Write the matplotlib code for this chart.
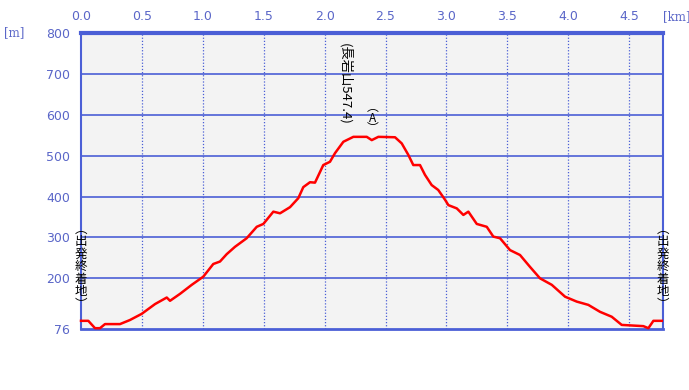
import matplotlib
matplotlib.use("Agg")
import matplotlib.pyplot as plt

# ---- data ----
dist_km = [0.0, 0.06, 0.115, 0.156, 0.197, 0.32, 0.402, 0.498, 0.608, 0.704, 0.731, 0.813,
           0.909, 1.004, 1.086, 1.141, 1.196, 1.264, 1.360, 1.443, 1.497, 1.579, 1.634,
           1.716, 1.784, 1.825, 1.880, 1.921, 1.989, 2.044, 2.085, 2.154, 2.236, 2.346,
           2.387, 2.441, 2.578, 2.633, 2.687, 2.728, 2.783, 2.824, 2.879, 2.933, 2.989,
           3.016, 3.085, 3.139, 3.180, 3.249, 3.331, 3.385, 3.440, 3.522, 3.604, 3.686,
           3.768, 3.865, 3.974, 4.070, 4.165, 4.261, 4.357, 4.439, 4.617, 4.658, 4.699, 4.768]
elev_m = [96, 96, 78, 78, 88, 88, 98, 113, 137, 153, 145, 162,
          184, 204, 235, 241, 259, 277, 298, 326, 333, 363, 359,
          374, 396, 423, 435, 434, 477, 485, 506, 534, 546, 546,
          538, 546, 545, 530, 502, 477, 477, 453, 428, 416, 392,
          379, 371, 355, 363, 333, 326, 302, 298, 269, 257, 228,
          200, 184, 155, 143, 135, 118, 106, 86, 83, 78, 96, 96]

x_ticks = [0.0, 0.5, 1.0, 1.5, 2.0, 2.5, 3.0, 3.5, 4.0, 4.5]
y_ticks = [76, 200, 300, 400, 500, 600, 700, 800]
peak_label = "(長岩山547.4)"
mark_label = "︵\nA\n︶"
end_label = "︵\n出\n発\n終\n着\n地\n︶"

blue = "#4b5fd6"
tick_col = "#5a66c8"
cjk = ["Noto Sans CJK JP", "DejaVu Sans"]

fig = plt.figure(figsize=(6.89, 3.90), dpi=100, facecolor="white")
ax = fig.add_axes([81 / 689, 1 - 329 / 390, (663 - 81) / 689, (329 - 33) / 390])
ax.set_facecolor("#f3f3f3")

ax.set_xlim(0, 4.778)
ax.set_ylim(76, 800)

for v in [200, 300, 400, 500, 600, 700]:
    ax.axhline(v, color=blue, lw=1.2, zorder=1)
for v in x_ticks[1:]:
    ax.axvline(v, color=blue, lw=0.9, ls=(0, (1, 1.5)), zorder=1)

ax.plot(dist_km, elev_m, color="#ff0000", lw=1.8, zorder=3, clip_on=False)

ax.xaxis.tick_top()
ax.set_xticks(x_ticks)
ax.set_xticklabels([f"{v:.1f}" for v in x_ticks])
ax.set_yticks(y_ticks)
ax.set_yticklabels([str(v) for v in y_ticks])
ax.tick_params(axis="both", length=0, colors=tick_col, labelsize=9)
ax.tick_params(axis="x", pad=7)
ax.tick_params(axis="y", pad=8)

for side, sp in ax.spines.items():
    sp.set_color(blue)
ax.spines["top"].set_linewidth(3)
ax.spines["bottom"].set_linewidth(2)
ax.spines["left"].set_linewidth(1.5)
ax.spines["right"].set_linewidth(1.5)

fig.text(4 / 689, 1 - 33 / 390, "[m]", color=tick_col, fontsize=8.5, ha="left", va="center",
         family="DejaVu Serif")
fig.text(663 / 689, 1 - 17 / 390, "[km]", color=tick_col, fontsize=8.5, ha="left", va="center",
         family="DejaVu Serif")

# annotations
ax.text(2.166, 675, peak_label, rotation=-90, ha="center", va="center", fontsize=9.5,
        family=cjk, color="black", zorder=4)
ax.text(2.397, 592, mark_label, ha="center", va="center", fontsize=8.5, linespacing=0.75,
        family=cjk, color="black", zorder=4)
ax.text(0.0, 228, end_label, ha="center", va="center", fontsize=9, linespacing=0.95,
        family=cjk, color="black", zorder=4, clip_on=False)
ax.text(4.778, 228, end_label, ha="center", va="center", fontsize=9, linespacing=0.95,
        family=cjk, color="black", zorder=4, clip_on=False)

fig.savefig("out.png", dpi=100, facecolor="white")
